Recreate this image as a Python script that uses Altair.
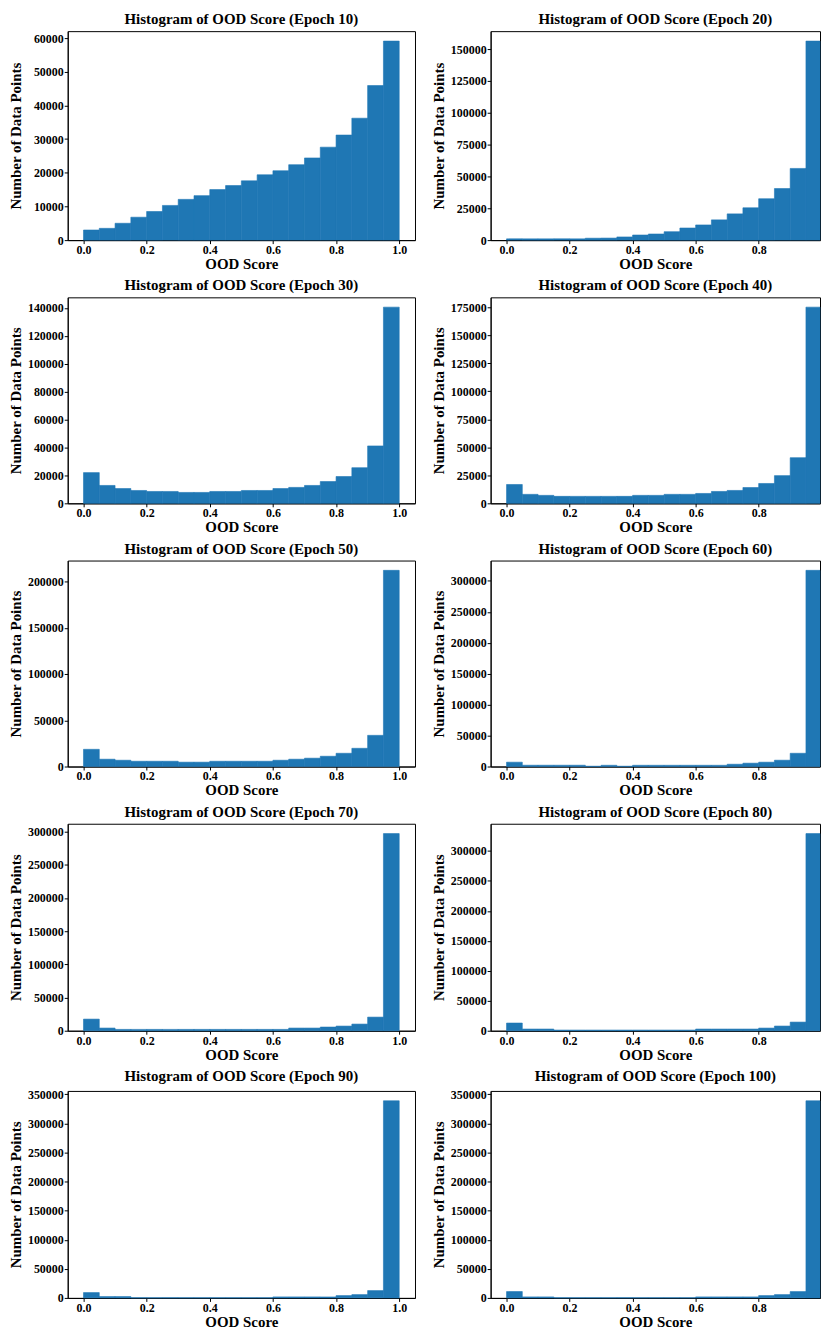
import altair as alt
import pandas as pd

bin_starts = [0.00, 0.05, 0.10, 0.15, 0.20, 0.25, 0.30, 0.35, 0.40, 0.45,
              0.50, 0.55, 0.60, 0.65, 0.70, 0.75, 0.80, 0.85, 0.90, 0.95]
bin_ends = [0.05, 0.10, 0.15, 0.20, 0.25, 0.30, 0.35, 0.40, 0.45, 0.50,
            0.55, 0.60, 0.65, 0.70, 0.75, 0.80, 0.85, 0.90, 0.95, 1.00]
x_ticks_left = [0.0, 0.2, 0.4, 0.6, 0.8, 1.0]
x_ticks_right = [0.0, 0.2, 0.4, 0.6, 0.8]

epochs = [10, 20, 30, 40, 50, 60, 70, 80, 90, 100]

counts_e10 = [3000, 3500, 5000, 6800, 8500, 10300, 12100, 13200, 15000, 16200,
              17600, 19400, 20600, 22400, 24400, 27600, 31200, 36200, 45900, 59100]
counts_e20 = [1000, 1000, 1000, 1000, 1000, 1500, 1600, 2500, 4000, 4800,
              6600, 9500, 11900, 15900, 20600, 25400, 32500, 40500, 56300, 156300]
counts_e30 = [22000, 12800, 10600, 9200, 8500, 8500, 7800, 7800, 8500, 8500,
              9200, 9200, 10600, 11400, 12800, 15600, 19200, 25500, 41100, 140500]
counts_e40 = [16800, 8000, 7100, 6200, 6200, 6200, 6200, 6200, 7100, 7100,
              8000, 8000, 8800, 10600, 11500, 14100, 17700, 24700, 40700, 175000]
counts_e50 = [18600, 7900, 6800, 5700, 5700, 5700, 4700, 4700, 5700, 5700,
              5700, 5700, 6800, 7900, 9000, 11100, 14300, 19700, 33700, 212000]
counts_e60 = [7000, 2100, 2100, 2100, 2100, 500, 2000, 500, 2000, 2000,
              2000, 2000, 2000, 2000, 3700, 5400, 7000, 10200, 21400, 317000]
counts_e70 = [17500, 4000, 2000, 2000, 2000, 2000, 2000, 2000, 2000, 2000,
              2000, 2000, 2000, 4000, 4000, 5500, 7000, 10000, 20500, 297000]
counts_e80 = [12800, 2800, 2800, 1100, 1100, 1100, 1100, 1100, 1100, 1100,
              1100, 1100, 2800, 2800, 2800, 2800, 4400, 7800, 14400, 329000]
counts_e90 = [9200, 2300, 2300, 300, 300, 300, 300, 300, 300, 300,
              300, 300, 1700, 1700, 1700, 1700, 4000, 5700, 12600, 339000]
counts_e100 = [10900, 1700, 1700, 300, 300, 300, 300, 300, 300, 300,
               300, 300, 1700, 1700, 1700, 1700, 4000, 5700, 10900, 339000]

y_ticks_e10 = [0, 10000, 20000, 30000, 40000, 50000, 60000]
y_ticks_e20 = [0, 25000, 50000, 75000, 100000, 125000, 150000]
y_ticks_e30 = [0, 20000, 40000, 60000, 80000, 100000, 120000, 140000]
y_ticks_e40 = [0, 25000, 50000, 75000, 100000, 125000, 150000, 175000]
y_ticks_e50 = [0, 50000, 100000, 150000, 200000]
y_ticks_e60 = [0, 50000, 100000, 150000, 200000, 250000, 300000]
y_ticks_e70 = [0, 50000, 100000, 150000, 200000, 250000, 300000]
y_ticks_e80 = [0, 50000, 100000, 150000, 200000, 250000, 300000]
y_ticks_e90 = [0, 50000, 100000, 150000, 200000, 250000, 300000, 350000]
y_ticks_e100 = [0, 50000, 100000, 150000, 200000, 250000, 300000, 350000]

all_counts = [counts_e10, counts_e20, counts_e30, counts_e40, counts_e50,
              counts_e60, counts_e70, counts_e80, counts_e90, counts_e100]
all_ticks = [y_ticks_e10, y_ticks_e20, y_ticks_e30, y_ticks_e40, y_ticks_e50,
             y_ticks_e60, y_ticks_e70, y_ticks_e80, y_ticks_e90, y_ticks_e100]

BAR = "#1f77b4"
FONT = "Liberation Serif"

left_width = 349
right_width = 331
y_extent = 42
row_heights = [210, 207, 207, 208, 208]
left_domain = [-0.05, 1.05]
right_domain = [-0.0505, 0.9946]  # right column is cut at the page edge in the original


def panel(epoch, counts, ticks, width, height, xdom, xticks):
    df = pd.DataFrame({"start": bin_starts, "end": bin_ends, "count": counts})
    ymax = max(counts) * 1.05
    return alt.Chart(df).mark_rect(color=BAR, stroke=BAR, strokeWidth=0.6).encode(
        x=alt.X("start:Q",
                scale=alt.Scale(domain=xdom, nice=False, zero=False, clamp=True),
                axis=alt.Axis(values=xticks, format=".1f", title="OOD Score",
                              titlePadding=1)),
        x2="end:Q",
        y=alt.Y("count:Q",
                scale=alt.Scale(domain=[0, ymax], nice=False),
                axis=alt.Axis(values=ticks, format="d", title="Number of Data Points",
                              minExtent=y_extent, maxExtent=y_extent)),
        y2=alt.datum(0),
    ).properties(width=width, height=height,
                 title=f"Histogram of OOD Score (Epoch {epoch})")


rows = []
for r in range(5):
    i, j = 2 * r, 2 * r + 1
    left = panel(epochs[i], all_counts[i], all_ticks[i], left_width, row_heights[r],
                 left_domain, x_ticks_left)
    right = panel(epochs[j], all_counts[j], all_ticks[j], right_width, row_heights[r],
                  right_domain, x_ticks_right)
    rows.append(alt.hconcat(left, right, spacing=15))

chart = alt.vconcat(*rows, spacing=5.5).properties(
    padding={"left": 0, "top": 0, "right": 0, "bottom": 0}
).configure_view(
    stroke="black", strokeWidth=1
).configure_axis(
    labelFont=FONT, labelFontWeight="bold", labelFontSize=12, labelColor="black",
    titleFont=FONT, titleFontWeight="bold", titleFontSize=15, titleColor="black",
    domainColor="black", domainWidth=1, tickColor="black", tickSize=3.5, tickWidth=1,
    grid=False, labelPadding=1, titlePadding=2,
).configure_title(
    font=FONT, fontWeight="bold", fontSize=15, color="black", offset=0, anchor="middle"
)

chart.save("out.html", embed_options={"renderer": "svg", "actions": False})
